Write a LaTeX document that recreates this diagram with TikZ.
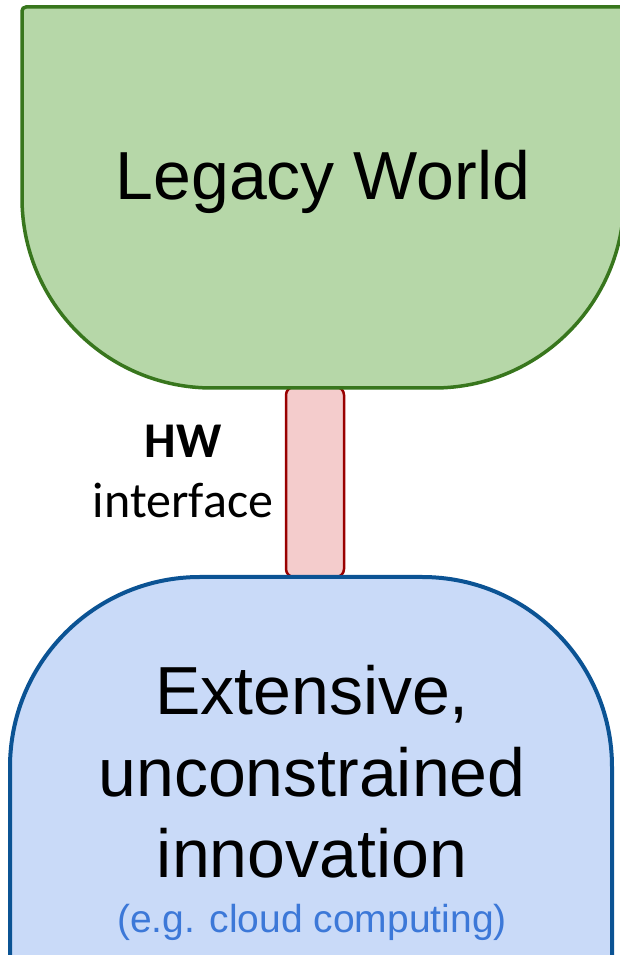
\documentclass[tikz,border=0pt]{standalone}
\usepackage{fontspec}
\setmainfont{Liberation Sans}
\newfontfamily\calib{Carlito}
\definecolor{legfill}{HTML}{B6D7A8}
\definecolor{legline}{HTML}{38761D}
\definecolor{innfill}{HTML}{C9DAF8}
\definecolor{innline}{HTML}{0B5394}
\definecolor{hwfill}{HTML}{F4CCCC}
\definecolor{hwline}{HTML}{990000}
\definecolor{notecol}{HTML}{3C78D8}
\begin{document}
\begin{tikzpicture}[x=1pt,y=1pt,
  bigtext/.style={font=\fontsize{68}{80}\selectfont, anchor=base, inner sep=0pt},
  notetext/.style={font=\fontsize{39}{46}\selectfont, text=notecol, anchor=base, inner sep=0pt},
  sidetext/.style={font=\calib\fontsize{50}{60}\selectfont, anchor=base, inner sep=0pt}]
\useasboundingbox (0,0) rectangle (619,955);
% interface bar between the two worlds
\filldraw[fill=hwfill, draw=hwline, line width=2.5pt, rounded corners=8pt]
  (286,378) rectangle (344,568);
% legacy world block
\filldraw[fill=legfill, draw=legline, line width=3.5pt]
  (22,757) -- (22,944) arc[start angle=180,end angle=90,radius=4]
  -- (624,948) -- (624,757) arc[start angle=0,end angle=-90,radius=190]
  -- (212,567) arc[start angle=270,end angle=180,radius=190] -- cycle;
% innovation block
\filldraw[fill=innfill, draw=innline, line width=4pt]
  (10,-10) -- (10,188) arc[start angle=180,end angle=90,radius=190]
  -- (422,378) arc[start angle=90,end angle=0,radius=190]
  -- (612,-10) -- cycle;
% labels
\node[bigtext] (legacy) at (323,755) {Legacy World};
\node[bigtext] (ext) at (312,240) {Extensive,};
\node[bigtext] (uncon) at (312,158) {unconstrained};
\node[bigtext] (innov) at (312,77) {innovation};
\node[notetext] (note) at (312,23) {(e.g. cloud computing)};
\node[sidetext] (hw) at (183,497) {\bfseries HW};
\node[sidetext] (iface) at (183,437) {interface};
\end{tikzpicture}
\end{document}
